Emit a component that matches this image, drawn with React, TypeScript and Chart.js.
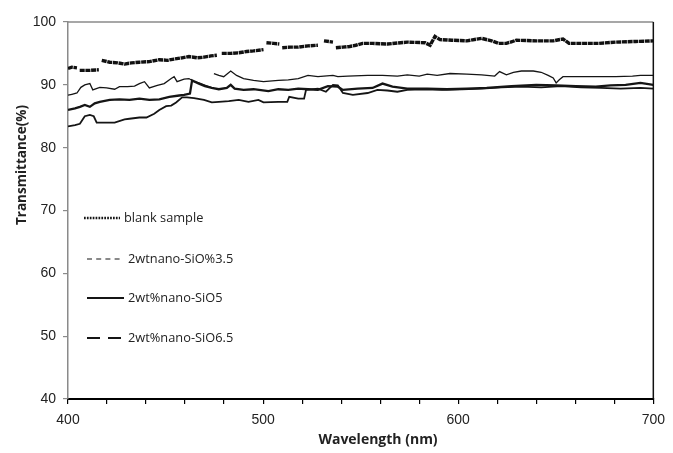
import { useEffect, useRef } from "react";
import { Chart, registerables } from "chart.js";

Chart.register(...registerables);

// ---- Data (wavelength nm, transmittance %) ----
const seriesNames = ["blank sample", "2wtnano-SiO%3.5", "2wt%nano-SiO5", "2wt%nano-SiO6.5"];

const blankWl = [400, 402, 404.6, 405, 406, 411.2, 415.8, 416.5, 417.3, 421.4, 425.4, 429, 432.5, 436.6, 441.7, 446.8, 450.9, 454.4, 458.5, 462, 466.1, 469.7, 473.2, 476.3, 477.5, 478.8, 483.4, 487.5, 491.5, 495.1, 500.2, 500.8, 501.7, 505.3, 508.3, 509, 509.8, 513.9, 518, 523, 528.1, 529, 531.2, 535.8, 536.5, 537.3, 540.9, 544.4, 547.5, 551, 556.1, 563.7, 573.9, 583, 585.6, 588.1, 590.7, 596.8, 604.4, 612, 617.1, 620.7, 624.7, 629.8, 640, 648.7, 653.7, 656.8, 665.4, 672, 680.7, 690.9, 700];
const blankT = [92.6, 92.8, 92.7, null, 92.3, 92.3, 92.4, null, 93.9, 93.6, 93.5, 93.3, 93.5, 93.6, 93.7, 94.0, 93.9, 94.1, 94.3, 94.5, 94.3, 94.4, 94.6, 94.7, null, 95.0, 95.0, 95.1, 95.3, 95.4, 95.6, null, 96.7, 96.6, 96.5, null, 95.9, 96.0, 96.0, 96.2, 96.3, null, 97.0, 96.8, null, 95.9, 96.0, 96.1, 96.3, 96.6, 96.6, 96.5, 96.8, 96.7, 96.3, 97.7, 97.2, 97.1, 97.0, 97.4, 97.0, 96.6, 96.6, 97.1, 97.0, 97.0, 97.3, 96.6, 96.6, 96.6, 96.8, 96.9, 97.0];

const s35Wl = [400, 402, 404.6, 406.6, 408.6, 411.2, 412.7, 416.3, 419.8, 423.9, 426.4, 430.5, 434.1, 436.6, 439.2, 441.7, 445.8, 449.3, 452.9, 454.4, 455.9, 459.5, 462, 464.6, 467.1, 469.7, 473.2, 474, 474.8, 477.3, 479.8, 483.4, 486.4, 490, 495.1, 500.2, 507.8, 512.9, 518, 523, 528.1, 535.8, 538.3, 543.4, 553.6, 561.2, 568.8, 573.9, 580, 584.1, 589.2, 595.8, 604.4, 612, 618.7, 621.2, 624.7, 628.3, 632.4, 638.5, 642.5, 646.1, 648.7, 650.2, 651.8, 653.7, 660.4, 670.5, 680.7, 689.3, 693.4, 700];
const s35T = [88.35, 88.5, 88.7, 89.6, 90.0, 90.2, 89.2, 89.6, 89.5, 89.3, 89.7, 89.7, 89.8, 90.2, 90.5, 89.5, 89.9, 90.2, 91.0, 91.3, 90.5, 90.9, 91.0, 90.5, 90.3, 90.0, 89.6, null, 91.8, 91.5, 91.3, 92.2, 91.5, 91.0, 90.7, 90.5, 90.7, 90.8, 91.0, 91.5, 91.3, 91.5, 91.3, 91.4, 91.5, 91.5, 91.4, 91.6, 91.4, 91.7, 91.5, 91.8, 91.7, 91.6, 91.4, 92.1, 91.6, 92.0, 92.2, 92.2, 92.0, 91.5, 91.1, 90.3, 90.8, 91.3, 91.3, 91.3, 91.3, 91.4, 91.5, 91.5];

const s5Wl = [400, 403.6, 406.1, 408.6, 411.2, 413.7, 416.3, 421.4, 426.4, 431.5, 436.6, 441.7, 446.8, 451.9, 457, 459.5, 462.5, 463.6, 467.1, 470.2, 473.7, 477.3, 481.4, 483.4, 485.4, 490, 495.1, 502.7, 507.8, 512.9, 518, 523, 528.1, 533.2, 538.3, 540.9, 548.5, 556.1, 561.2, 566.3, 573.9, 584.1, 594.2, 604.4, 614.6, 627.3, 640, 650.2, 660.4, 670.5, 678.1, 685.8, 693.4, 700];
const s5T = [86.0, 86.25, 86.5, 86.8, 86.5, 87.05, 87.3, 87.6, 87.7, 87.6, 87.8, 87.6, 87.7, 88.1, 88.3, 88.4, 88.6, 90.7, 90.2, 89.8, 89.5, 89.3, 89.5, 90.0, 89.4, 89.2, 89.3, 89.0, 89.3, 89.2, 89.4, 89.3, 89.2, 89.8, 89.7, 89.2, 89.4, 89.5, 90.2, 89.7, 89.4, 89.4, 89.3, 89.4, 89.5, 89.8, 90.0, 89.9, 89.8, 89.7, 89.9, 90.0, 90.3, 90.0];

const s65Wl = [400, 403.6, 406.1, 408.6, 411.2, 413.2, 414.7, 418.8, 423.9, 429, 431.5, 436.6, 440.2, 444.2, 446.8, 450.3, 452.9, 455.4, 458.5, 461, 464.6, 469.7, 473.7, 477.3, 482.4, 487.5, 492.5, 497.6, 500.2, 507.8, 512.4, 513.4, 518, 521, 522, 528.1, 532.2, 535.8, 538.3, 540.9, 546, 553.6, 558.6, 563.7, 568.8, 573.9, 581.5, 591.7, 601.9, 612, 622.2, 632.4, 642.5, 652.7, 662.9, 673.1, 683.2, 693.4, 700];
const s65T = [83.4, 83.6, 83.8, 85.0, 85.2, 85.0, 84.0, 84.0, 84.0, 84.5, 84.6, 84.8, 84.8, 85.4, 86.0, 86.6, 86.7, 87.2, 88.0, 88.0, 87.9, 87.6, 87.2, 87.3, 87.4, 87.6, 87.3, 87.6, 87.2, 87.3, 87.3, 88.1, 87.8, 87.8, 89.2, 89.4, 88.9, 90.0, 89.9, 88.7, 88.4, 88.7, 89.2, 89.1, 88.9, 89.2, 89.3, 89.2, 89.3, 89.4, 89.6, 89.7, 89.6, 89.8, 89.6, 89.5, 89.4, 89.5, 89.4];

const xMin = 400, xMax = 700, xStep = 20, xLabelStep = 100;
const yMin = 40, yMax = 100, yStep = 10;
const xTitle = "Wavelength (nm)";
const yTitle = "Transmittance(%)";

const toPoints = (xs: number[], ys: (number | null)[]) => xs.map((x, i) => ({ x, y: ys[i] }));

const LINE = "#151515";

const decorPlugin = {
  id: "decor",
  afterDraw(chart: any) {
    const { ctx, chartArea } = chart;
    const { left, right, top, bottom } = chartArea;
    ctx.save();
    // top border (grey) and right border (black)
    ctx.strokeStyle = "#8a8a8a";
    ctx.lineWidth = 1.5;
    ctx.beginPath();
    ctx.moveTo(left, top);
    ctx.lineTo(right, top);
    ctx.stroke();
    ctx.strokeStyle = "#111";
    ctx.lineWidth = 1.5;
    ctx.beginPath();
    ctx.moveTo(right, top);
    ctx.lineTo(right, bottom);
    ctx.stroke();

    // legend
    const items = [
      { y: 218, x0: 84, x1: 120, tx: 124, dash: [1.7, 1.2], w: 2.4 },
      { y: 259, x0: 87, x1: 122, tx: 128, dash: [5, 4.2], w: 1.2 },
      { y: 298, x0: 87, x1: 124, tx: 128, dash: [], w: 2.2 },
      { y: 338, x0: 87, x1: 121, tx: 128, dash: [13, 8], w: 1.8 },
    ];
    ctx.font = "12.8px 'Open Sans'";
    ctx.textBaseline = "middle";
    ctx.textAlign = "left";
    items.forEach((it, i) => {
      ctx.strokeStyle = LINE;
      ctx.lineWidth = it.w;
      ctx.setLineDash(it.dash);
      ctx.beginPath();
      ctx.moveTo(it.x0, it.y);
      ctx.lineTo(it.x1, it.y);
      ctx.stroke();
      ctx.setLineDash([]);
      ctx.fillStyle = "#222";
      ctx.fillText(seriesNames[i], it.tx, it.y);
    });

    // axis titles
    ctx.fillStyle = "#222";
    ctx.font = "bold 14px 'Open Sans'";
    ctx.textAlign = "center";
    ctx.textBaseline = "middle";
    ctx.fillText(xTitle, 378, 440);
    ctx.save();
    ctx.translate(22, 165);
    ctx.rotate(-Math.PI / 2);
    ctx.font = "bold 13.5px 'Open Sans'";
    ctx.fillText(yTitle, 0, 0);
    ctx.restore();
    ctx.restore();
  },
};

export default function App() {
  const ref = useRef<HTMLCanvasElement>(null);
  useEffect(() => {
    const chart = new Chart(ref.current as HTMLCanvasElement, {
      type: "line",
      data: {
        datasets: [
          { label: seriesNames[0], data: toPoints(blankWl, blankT), borderColor: "#111", borderWidth: 3.4, borderDash: [5, 0.7], pointRadius: 0, spanGaps: false, tension: 0 },
          { label: seriesNames[1], data: toPoints(s35Wl, s35T), borderColor: LINE, borderWidth: 1.3, pointRadius: 0, spanGaps: false, tension: 0 },
          { label: seriesNames[2], data: toPoints(s5Wl, s5T), borderColor: LINE, borderWidth: 2.3, pointRadius: 0, spanGaps: false, tension: 0 },
          { label: seriesNames[3], data: toPoints(s65Wl, s65T), borderColor: LINE, borderWidth: 1.8, pointRadius: 0, spanGaps: false, tension: 0 },
        ] as any,
      },
      options: {
        animation: false,
        responsive: false,
        devicePixelRatio: 1,
        layout: { padding: { top: 22, right: 15, left: 0, bottom: 0 } },
        plugins: { legend: { display: false }, tooltip: { enabled: false } },
        scales: {
          x: {
            type: "linear",
            min: xMin,
            max: xMax,
            afterFit: (s: any) => { s.height = 54; },
            border: { display: true, color: "#000", width: 2 },
            grid: { display: true, drawOnChartArea: false, drawTicks: true, tickLength: 5, color: "#000", lineWidth: 1.2 },
            ticks: {
              stepSize: xStep,
              autoSkip: false,
              maxRotation: 0,
              padding: 8,
              color: "#222",
              font: { family: "'Liberation Sans', Arial", size: 14 },
              callback: (v: any) => (Number(v) % xLabelStep === 0 ? String(v) : ""),
            },
          },
          y: {
            type: "linear",
            min: yMin,
            max: yMax,
            afterFit: (s: any) => { s.width = 68; },
            border: { display: true, color: "#8a8a8a", width: 1.5 },
            grid: { display: true, drawOnChartArea: false, drawTicks: true, tickLength: 5, color: "#8a8a8a", lineWidth: 1.2 },
            ticks: {
              stepSize: yStep,
              padding: 7,
              color: "#222",
              font: { family: "'Liberation Sans', Arial", size: 14 },
            },
          },
        },
      },
      plugins: [decorPlugin],
    } as any);
    return () => chart.destroy();
  }, []);
  return (
    <div style={{ position: "fixed", left: 0, top: 0, width: 673, height: 453, background: "#fff" }}>
      <canvas ref={ref} width={673} height={453} style={{ display: "block", width: 673, height: 453 }} />
    </div>
  );
}
